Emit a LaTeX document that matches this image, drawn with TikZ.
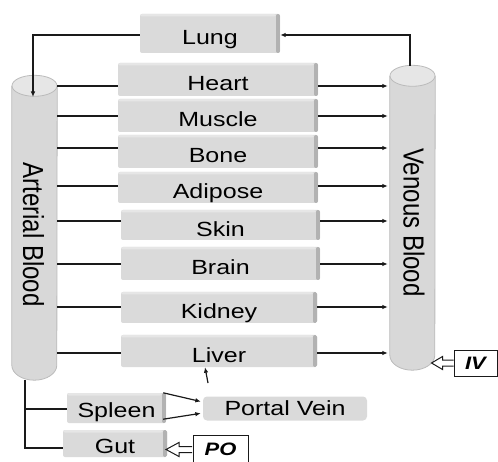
\documentclass[tikz,border=0pt]{standalone}
\usepackage{fontspec}
\setmainfont[FakeStretch=1.22]{Liberation Sans}
\newfontfamily\rotfont[FakeStretch=0.83]{Liberation Sans}
\usetikzlibrary{arrows.meta}
\definecolor{boxgray}{HTML}{DADADA}
\definecolor{sidegray}{HTML}{B2B2B2}
\definecolor{topgray}{HTML}{E6E6E6}
\definecolor{cylgray}{HTML}{D8D8D8}
\definecolor{cyledge}{HTML}{BBBBBB}
\definecolor{cyltop}{HTML}{E6E6E6}
\definecolor{linec}{HTML}{1A1A1A}
\begin{document}
\begin{tikzpicture}[x=1pt,y=-1pt,
  >={Latex[length=5.5pt,width=4.5pt]},
  conn/.style={draw=linec,line width=1.2pt},
  organ/.style={rectangle,rounded corners=2pt,fill=boxgray,inner sep=0pt,
    font=\fontsize{20.5}{22}\selectfont,text height=22.7pt,text depth=0pt,
    path picture={
      \fill[topgray] (path picture bounding box.north west) rectangle ([xshift=-4pt,yshift=-2.5pt]path picture bounding box.north east);
      \fill[sidegray] ([xshift=-4pt]path picture bounding box.north east) rectangle (path picture bounding box.south east);}},
  lowbox/.style={organ,text height=19.7pt},
  plainbox/.style={rectangle,rounded corners=4pt,fill=boxgray,inner sep=0pt,
    font=\fontsize{20.5}{22}\selectfont,text height=14.7pt,text depth=0pt},
  cylbody/.style={fill=cylgray,draw=cyledge,line width=0.8pt},
  cylcap/.style={fill=cyltop,draw=cyledge,line width=0.8pt},
  cylspace/.style={rectangle,inner sep=0pt,minimum width=45pt,minimum height=294pt},
  cyltext/.style={rotate=-90,font=\rotfont\fontsize{29}{30}\selectfont,inner sep=0pt},
  inbox/.style={rectangle,draw=linec,line width=1pt,fill=white,inner sep=0pt,
    font=\fontsize{18}{20}\bfseries\itshape,text height=12.9pt,text depth=0pt},
  hollow/.style={draw=linec,line width=1pt,fill=white,line join=miter}
]
\useasboundingbox (0,0) rectangle (498,462);

% cylinders
\node[cylspace] (art) at (34.5,233) {};
\node[cylspace] (ven) at (412.5,223) {};
\filldraw[cylbody] (art.north west) -- ([yshift=15pt]art.south west)
  arc[start angle=180,end angle=360,x radius=22.5pt,y radius=15pt] -- (art.north east);
\filldraw[cylcap] (art.north) ellipse[x radius=22.5pt,y radius=10.5pt];
\filldraw[cylbody] (ven.north west) -- ([yshift=15pt]ven.south west)
  arc[start angle=180,end angle=360,x radius=22.5pt,y radius=15pt] -- (ven.north east);
\filldraw[cylcap] (ven.north) ellipse[x radius=22.5pt,y radius=10.5pt];
\node[cyltext] (arttext) at (33.5,234.5) {Arterial Blood};
\node[cyltext] (ventext) at (414,222.5) {Venous Blood};

% boxes
\node[organ,minimum width=140pt,minimum height=39pt] (lung) at (210,33.5) {Lung};
\node[organ,minimum width=200pt,minimum height=33pt] (heart) at (218,79.5) {Heart};
\node[organ,minimum width=200pt,minimum height=33pt] (muscle) at (218,115.5) {Muscle};
\node[organ,minimum width=200pt,minimum height=33pt] (bone) at (218,151.5) {Bone};
\node[organ,minimum width=200pt,minimum height=31pt] (adipose) at (218,187.5) {Adipose};
\node[organ,minimum width=199pt,minimum height=30pt] (skin) at (220.5,225) {Skin};
\node[organ,minimum width=199pt,minimum height=33pt] (brain) at (220.5,263.5) {Brain};
\node[organ,minimum width=196pt,minimum height=31pt] (kidney) at (219,307.5) {Kidney};
\node[organ,minimum width=196pt,minimum height=32pt] (liver) at (219,351) {Liver};
\node[lowbox,minimum width=99pt,minimum height=30pt] (spleen) at (116.5,408) {Spleen};
\node[lowbox,minimum width=104pt,minimum height=27pt] (gut) at (115,443.5) {Gut};
\node[plainbox,minimum width=164pt,minimum height=24pt] (portal) at (285,408.5) {Portal Vein};
\node[inbox,minimum width=43pt,minimum height=26pt] (iv) at (475.5,363) {IV};
\node[inbox,minimum width=55pt,minimum height=29pt] (po) at (220.5,449.5) {PO};

% lung loop
\coordinate (atop) at (33,97);
\coordinate (vtop) at (410,66);
\draw[conn,->] ([yshift=-1.5pt]lung.west) -| (atop);
\draw[conn,->] (vtop) |- ([yshift=-1.5pt]lung.east);

% organ connectors
\foreach \o/\d in {heart/6.5,muscle/0.5,bone/-3.5,adipose/-1.5,skin/-4,brain/0.5,kidney/-0.5,liver/2}{
  \draw[conn] ([yshift=-\d pt]\o.west -| art.east) -- ([yshift=-\d pt]\o.west);
  \draw[conn,->,shorten >=2pt] ([yshift=-\d pt]\o.east) -- ([yshift=-\d pt]\o.east -| ven.west);
}

% lower part
\coordinate (abot) at (25,380);
\coordinate (lin) at (208,383);
\draw[conn] (abot) |- ([yshift=-4.5pt]gut.west);
\draw[conn] ([yshift=-1pt]spleen.west -| abot) -- ([yshift=-1pt]spleen.west);
\draw[conn,->,shorten >=2pt] ([xshift=-3pt]spleen.north east) -- ([yshift=6.5pt]portal.west);
\draw[conn,->,shorten >=2pt] ([xshift=-3pt,yshift=4pt]spleen.south east) -- ([yshift=-4.5pt]portal.west);
\draw[conn,->] (lin) -- ([xshift=-14pt]liver.south);

% dosing arrows
\filldraw[hollow] ([yshift=3pt]iv.west) -- ++(-11,0) -- ++(0,-3.5) -- ++(-11,6.5)
  -- ++(11,6.5) -- ++(0,-3.5) -- ++(11,0);
\filldraw[hollow] ([yshift=3pt,xshift=-0.5pt]po.west) -- ++(-13,0) -- ++(0,-4) -- ++(-13,7)
  -- ++(13,7) -- ++(0,-4) -- ++(13,0);
\end{tikzpicture}
\end{document}
